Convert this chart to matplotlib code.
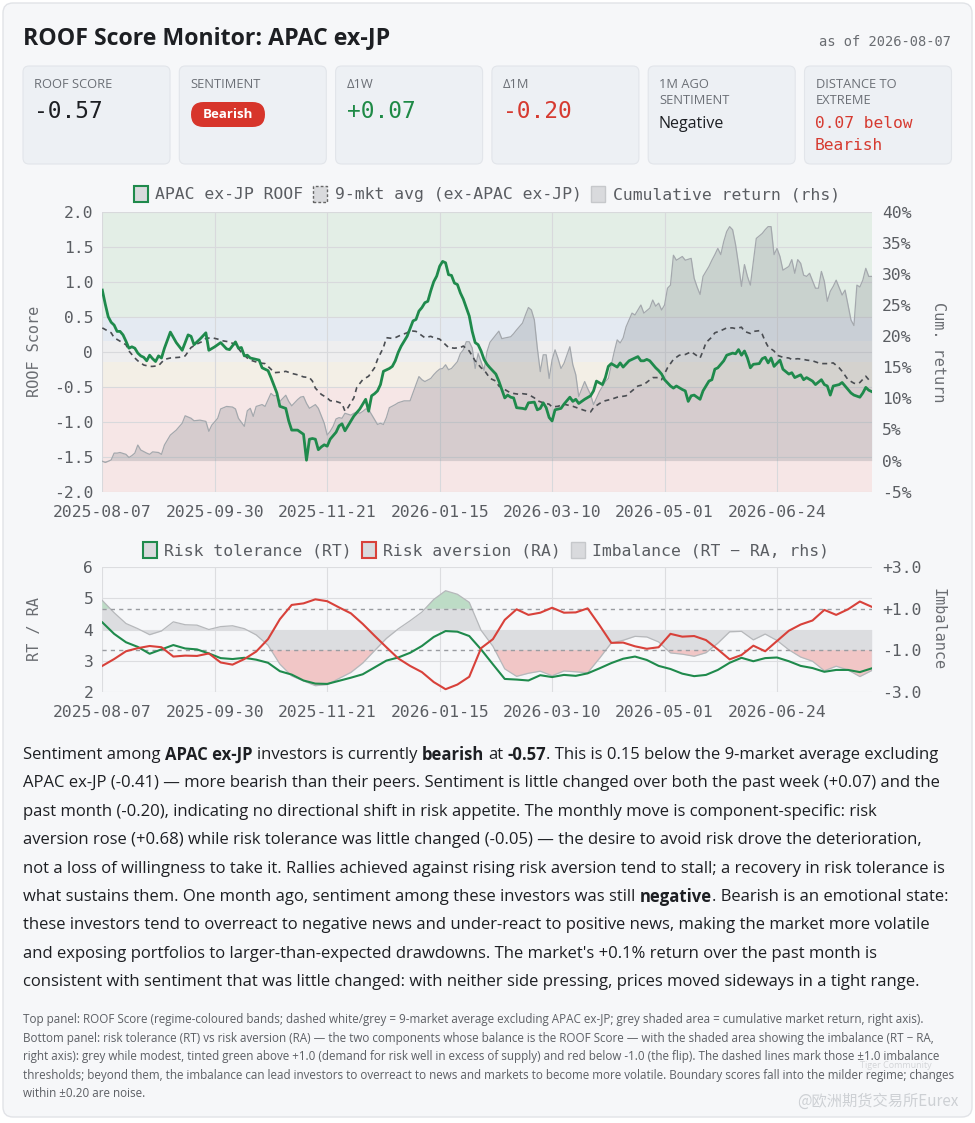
import numpy as np
import matplotlib
matplotlib.use("Agg")
import matplotlib.pyplot as plt
from matplotlib import font_manager
from matplotlib.patches import FancyBboxPatch, Patch

W, H = 975, 1123
MONO = ["DejaVu Sans Mono"]


def pick_sans():
    # first installed family that really has a bold face
    for fam in ["Open Sans", "Roboto", "Lato", "Noto Sans", "Liberation Sans"]:
        try:
            reg = font_manager.findfont(font_manager.FontProperties(family=fam), fallback_to_default=False)
            bold = font_manager.findfont(font_manager.FontProperties(family=fam, weight="bold"),
                                         fallback_to_default=False)
        except Exception:
            continue
        if bold != reg:
            return [fam, "DejaVu Sans"]
    return ["DejaVu Sans"]


SANS = pick_sans()

# ---- data (trading-day index since 2025-08-07) ----
tick_days = [0, 38, 76, 114, 152, 190, 228]
tick_labels = ["2025-08-07", "2025-09-30", "2025-11-21", "2026-01-15",
               "2026-03-10", "2026-05-01", "2026-06-24"]
last_day = 260

roof_pts = [(0,0.88),(1,0.68),(2,0.50),(3,0.42),(4,0.38),(5,0.29),(6,0.29),(7,0.24),(8,0.15),(9,0.05),
    (10,0.07),(11,0.05),(12,-0.02),(13,-0.06),(14,-0.08),(15,-0.13),(16,-0.05),(17,-0.10),(18,-0.14),
    (19,-0.06),(20,-0.09),(21,0.05),(23,0.28),(25,0.13),(27,0.02),(29,0.24),(30,0.22),(31,0.10),(33,0.18),
    (35,0.27),(36,0.02),(38,0.07),(40,0.13),(42,0.04),(43,0.03),(45,0.14),(46,0.05),(47,0.06),(48,-0.06),
    (49,-0.05),(50,-0.09),(52,-0.11),(53,-0.12),(54,-0.23),(56,-0.27),(57,-0.37),(59,-0.59),(60,-0.78),
    (62,-0.81),(63,-0.99),(64,-1.12),(66,-1.12),(68,-1.18),(69,-1.55),(70,-1.25),(71,-1.24),(72,-1.25),
    (73,-1.40),(74,-1.36),(75,-1.33),(76,-1.35),(77,-1.25),(79,-1.15),(80,-1.06),(81,-1.03),(82,-1.13),
    (83,-1.06),(84,-0.99),(85,-0.92),(87,-0.82),(89,-0.68),(90,-0.85),(91,-0.63),(92,-0.60),(93,-0.56),
    (94,-0.47),(95,-0.28),(97,-0.24),(98,-0.21),(99,-0.13),(100,-0.01),(101,0.08),(102,0.15),(103,0.22),
    (105,0.44),(106,0.46),(107,0.58),(108,0.63),(109,0.70),(110,0.72),(111,0.87),(112,1.00),(113,1.08),
    (114,1.22),(115,1.29),(116,1.27),(117,1.10),(118,1.09),(119,0.98),(120,0.96),(121,0.84),(122,0.75),
    (124,0.51),(125,0.29),(126,0.13),(127,0.10),(128,0.01),(129,-0.11),(130,-0.18),(131,-0.23),(133,-0.32),
    (134,-0.42),(135,-0.54),(136,-0.66),(137,-0.62),(138,-0.65),(139,-0.66),(140,-0.80),(142,-0.81),
    (143,-0.82),(144,-0.73),(146,-0.72),(147,-0.83),(148,-0.81),(149,-0.73),(150,-0.80),(151,-0.94),
    (152,-0.99),(153,-0.83),(155,-0.81),(156,-0.75),(158,-0.65),(159,-0.71),(160,-0.68),(161,-0.74),
    (163,-0.68),(165,-0.63),(166,-0.56),(167,-0.42),(169,-0.47),(170,-0.37),(171,-0.21),(172,-0.17),
    (174,-0.22),(175,-0.16),(176,-0.22),(178,-0.13),(179,-0.11),(181,-0.07),(182,-0.13),(183,-0.13),
    (184,-0.11),(185,-0.13),(187,-0.23),(188,-0.27),(189,-0.32),(190,-0.40),(192,-0.49),(193,-0.52),
    (194,-0.49),(196,-0.54),(197,-0.56),(198,-0.71),(199,-0.63),(200,-0.62),(202,-0.68),(203,-0.56),
    (205,-0.42),(206,-0.40),(207,-0.25),(208,-0.23),(210,-0.13),(211,-0.05),(213,-0.02),(214,-0.03),
    (215,0.03),(216,-0.05),(217,0.01),(218,-0.09),(219,-0.23),(220,-0.18),(222,-0.17),(223,-0.10),
    (224,-0.08),(225,-0.16),(226,-0.09),(227,-0.21),(229,-0.12),(230,-0.25),(232,-0.32),(233,-0.30),
    (234,-0.37),(236,-0.33),(237,-0.40),(238,-0.37),(240,-0.42),(241,-0.47),(243,-0.40),(244,-0.47),
    (245,-0.49),(246,-0.62),(247,-0.49),(249,-0.47),(250,-0.44),(251,-0.49),(253,-0.59),(254,-0.62),
    (256,-0.65),(257,-0.59),(258,-0.51),(259,-0.55),(260,-0.57)]

avg_pts = [(0,0.34),(3,0.27),(4,0.20),(6,0.15),(8,0.10),(9,0.01),(11,-0.09),(12,-0.13),(14,-0.19),
    (16,-0.21),(17,-0.21),(19,-0.20),(21,-0.11),(23,-0.09),(26,-0.08),(28,-0.06),(30,0.06),(32,0.11),
    (34,0.15),(35,0.19),(37,0.20),(39,0.18),(40,0.16),(43,0.14),(45,0.10),(47,-0.01),(49,-0.09),(50,-0.12),
    (53,-0.16),(55,-0.17),(57,-0.25),(58,-0.30),(61,-0.29),(62,-0.28),(64,-0.31),(66,-0.33),(68,-0.36),
    (70,-0.37),(71,-0.42),(72,-0.52),(74,-0.61),(76,-0.66),(77,-0.70),(79,-0.71),(81,-0.74),(82,-0.85),
    (83,-0.80),(85,-0.66),(86,-0.51),(88,-0.40),(90,-0.35),(92,-0.23),(93,-0.11),(95,0.06),(96,0.20),
    (98,0.19),(99,0.20),(101,0.24),(103,0.27),(104,0.30),(106,0.29),(107,0.26),(109,0.20),(111,0.22),
    (112,0.20),(114,0.18),(116,0.10),(117,0.06),(119,0.05),(121,0.06),(122,0.08),(124,0.01),(126,-0.13),
    (128,-0.23),(129,-0.26),(131,-0.38),(133,-0.42),(134,-0.49),(136,-0.54),(138,-0.59),(141,-0.61),
    (142,-0.60),(144,-0.61),(146,-0.66),(147,-0.70),(149,-0.73),(151,-0.75),(152,-0.79),(154,-0.78),
    (156,-0.75),(159,-0.78),(161,-0.81),(163,-0.84),(165,-0.86),(166,-0.80),(168,-0.74),(170,-0.70),
    (172,-0.68),(174,-0.65),(177,-0.63),(179,-0.56),(181,-0.49),(183,-0.47),(186,-0.37),(188,-0.37),
    (189,-0.40),(191,-0.23),(193,-0.11),(195,-0.05),(197,-0.04),(199,0.00),(201,-0.06),(202,-0.09),
    (203,0.01),(204,0.13),(206,0.21),(207,0.27),(209,0.30),(211,0.34),(213,0.34),(214,0.33),(216,0.35),
    (217,0.29),(219,0.26),(220,0.29),(222,0.30),(223,0.25),(224,0.15),(225,0.07),(227,0.01),(228,-0.05),
    (230,-0.08),(232,-0.09),(233,-0.11),(235,-0.10),(237,-0.11),(238,-0.12),(240,-0.13),(242,-0.16),
    (243,-0.17),(245,-0.17),(247,-0.16),(249,-0.23),(250,-0.28),(252,-0.40),(254,-0.45),(255,-0.46),
    (256,-0.44),(258,-0.35),(259,-0.40),(260,-0.42)]

# cumulative market return, %
cum_pts = [(0,-0.1),(1,-0.3),(3,0.1),(4,1.2),(5,1.2),(6,1.3),(8,1.0),(9,0.5),(10,0.8),(11,1.2),(12,2.5),
    (13,1.7),(15,1.2),(16,1.0),(17,1.4),(19,1.3),(20,1.0),(21,2.5),(23,4.1),(25,4.9),(27,6.0),(28,7.2),
    (30,6.8),(31,6.4),(33,6.5),(35,6.3),(36,4.7),(37,5.7),(39,6.8),(40,8.3),(42,8.7),(44,8.6),(45,8.3),
    (46,6.8),(48,5.5),(49,8.0),(50,8.4),(51,7.1),(52,8.7),(54,9.0),(55,8.7),(57,10.8),(58,10.4),(59,10.5),
    (60,9.5),(62,10.5),(63,9.5),(64,8.8),(65,9.3),(66,9.8),(67,10.2),(68,10.3),(69,9.2),(70,8.4),(71,8.7),
    (72,9.0),(73,8.4),(75,6.0),(76,4.1),(77,4.7),(78,5.5),(79,6.7),(80,6.9),(81,6.8),(82,7.6),(84,7.3),
    (85,7.6),(86,7.8),(87,7.6),(88,7.9),(89,8.3),(90,8.2),(91,7.4),(93,5.8),(94,6.0),(95,5.8),(96,6.9),
    (97,8.5),(99,9.0),(100,9.3),(102,9.6),(104,9.6),(105,10.9),(106,12.2),(107,13.5),(108,13.0),(109,12.7),
    (111,13.2),(112,13.8),(113,14.3),(114,14.7),(115,14.8),(116,15.4),(117,14.6),(118,14.8),(120,15.9),
    (121,17.2),(122,17.8),(123,19.1),(124,19.1),(125,18.1),(126,14.8),(127,17.2),(128,15.9),(129,14.5),
    (130,17.5),(131,19.0),(133,20.2),(134,20.8),(135,19.6),(136,19.7),(138,19.9),(139,20.4),(140,21.0),
    (142,22.1),(143,23.4),(144,24.6),(145,24.2),(146,22.6),(147,18.1),(148,14.3),(149,17.0),(150,17.0),
    (151,13.2),(152,16.2),(153,17.8),(154,16.4),(155,14.8),(156,15.6),(158,18.3),(159,15.4),(160,13.8),
    (161,10.3),(163,12.7),(164,11.6),(165,10.6),(166,9.0),(168,11.1),(169,11.9),(170,12.7),(171,13.2),
    (173,17.5),(174,19.4),(175,18.9),(176,19.7),(177,21.5),(179,23.7),(180,23.4),(182,25.0),(183,23.7),
    (185,24.5),(186,25.8),(187,24.8),(188,25.3),(189,24.2),(190,25.0),(191,27.7),(192,28.2),(193,33.0),
    (194,32.2),(196,32.8),(197,32.2),(199,32.5),(200,29.3),(201,27.9),(202,26.7),(203,29.6),(205,31.2),
    (206,32.2),(207,33.1),(208,34.1),(209,33.1),(210,35.2),(211,36.8),(212,37.6),(213,37.1),(214,34.7),
    (215,31.5),(216,28.0),(217,31.5),(218,29.6),(219,28.2),(220,32.0),(221,35.7),(223,36.5),(224,37.1),
    (225,37.6),(226,37.6),(227,33.1),(228,34.1),(229,32.8),(230,30.6),(232,31.2),(233,32.3),(234,30.1),
    (235,32.3),(236,31.7),(237,29.8),(238,29.6),(239,30.1),(241,27.7),(242,27.7),(243,30.4),(244,28.8),
    (245,25.6),(246,27.2),(247,28.0),(248,29.0),(250,26.6),(251,27.4),(252,25.0),(253,22.6),(254,21.7),
    (255,28.2),(256,27.9),(257,29.0),(258,30.9),(259,29.6),(260,29.6)]

# components, every 4th trading day
comp_days = np.arange(0, 261, 4)
rt_vals = [4.23,3.86,3.59,3.44,3.22,3.36,3.50,3.39,3.36,3.23,3.08,3.05,3.09,3.03,2.93,2.66,2.55,
           2.36,2.26,2.25,2.35,2.45,2.56,2.78,3.00,3.10,3.25,3.47,3.76,3.95,3.93,3.79,3.36,
           2.88,2.41,2.39,2.36,2.53,2.47,2.54,2.51,2.59,2.75,2.92,3.06,3.13,3.02,2.83,2.73,
           2.58,2.50,2.54,2.70,2.93,3.09,2.98,3.08,3.10,2.98,2.83,2.76,2.64,2.70,2.70,2.63,2.75]
ra_vals = [2.83,3.05,3.30,3.40,3.47,3.43,3.13,3.16,3.15,3.23,2.94,2.87,3.05,3.29,3.69,4.33,4.79,
           4.84,4.97,4.91,4.71,4.52,4.18,3.80,3.43,3.07,2.83,2.63,2.31,2.08,2.23,2.48,3.40,
           3.69,4.31,4.65,4.47,4.54,4.70,4.54,4.55,4.68,4.14,3.57,3.58,3.46,3.38,3.43,3.86,
           3.77,3.79,3.66,3.36,3.04,3.18,3.48,3.30,3.63,3.96,4.16,4.29,4.63,4.47,4.65,4.90,4.73]

# regime bands on the ROOF scale
regimes = [(0.5, 2.0, "#e3eee6"), (0.15, 0.5, "#e4eaf2"), (-0.15, 0.15, "#eeeeef"),
           (-0.5, -0.15, "#f3efe6"), (-2.0, -0.5, "#f6e6e6")]

cards = ["ROOF SCORE", "SENTIMENT", "\u03941W", "\u03941M", "1M AGO\nSENTIMENT", "DISTANCE TO\nEXTREME"]

para = [
    [("Sentiment among ", 0), ("APAC ex-JP", 1), (" investors is currently ", 0), ("bearish", 1),
     (" at ", 0), ("-0.57", 1), (". This is 0.15 below the 9-market average excluding", 0)],
    [("APAC ex-JP (-0.41) \u2014 more bearish than their peers. Sentiment is little changed over both the past week (+0.07) and the", 0)],
    [("past month (-0.20), indicating no directional shift in risk appetite. The monthly move is component-specific: risk", 0)],
    [("aversion rose (+0.68) while risk tolerance was little changed (-0.05) \u2014 the desire to avoid risk drove the deterioration,", 0)],
    [("not a loss of willingness to take it. Rallies achieved against rising risk aversion tend to stall; a recovery in risk tolerance is", 0)],
    [("what sustains them. One month ago, sentiment among these investors was still ", 0), ("negative", 1),
     (". Bearish is an emotional state:", 0)],
    [("these investors tend to overreact to negative news and under-react to positive news, making the market more volatile", 0)],
    [("and exposing portfolios to larger-than-expected drawdowns. The market's +0.1% return over the past month is", 0)],
    [("consistent with sentiment that was little changed: with neither side pressing, prices moved sideways in a tight range.", 0)],
]

notes = [
    "Top panel: ROOF Score (regime-coloured bands; dashed white/grey = 9-market average excluding APAC ex-JP; grey shaded area = cumulative market return, right axis).",
    "Bottom panel: risk tolerance (RT) vs risk aversion (RA) \u2014 the two components whose balance is the ROOF Score \u2014 with the shaded area showing the imbalance (RT \u2212 RA,",
    "right axis): grey while modest, tinted green above +1.0 (demand for risk well in excess of supply) and red below -1.0 (the flip). The dashed lines mark those \u00b11.0 imbalance",
    "thresholds; beyond them, the imbalance can lead investors to overreact to news and markets to become more volatile. Boundary scores fall into the milder regime; changes",
    "within \u00b10.20 are noise.",
]

GREEN = "#1f8a4c"
RED = "#d8413a"
TXT = "#1d1f23"
GREY_TXT = "#5a5d62"


def fx(px):
    return px / W


def fy(py):
    return 1 - py / H


def box(x0, y0, x1, y1, fc, ec, r=0.06, lw=0.8, z=-5):
    p = FancyBboxPatch((x0 / 100, (H - y1) / 100), (x1 - x0) / 100, (y1 - y0) / 100,
                       boxstyle="round,pad=0,rounding_size=%g" % r,
                       transform=fig.dpi_scale_trans, fc=fc, ec=ec, lw=lw, zorder=z)
    fig.patches.append(p)


fig = plt.figure(figsize=(W / 100, H / 100), dpi=100, facecolor="white")
renderer = fig.canvas.get_renderer()
box(3, 3, 972, 1117, "#f6f7f9", "#e1e3e7", r=0.1, lw=1, z=-10)


def text_width(s, size, weight, family):
    t = fig.text(0, 0, s, fontsize=size, fontweight=weight, family=family)
    w = t.get_window_extent(renderer).width
    t.remove()
    return w


def rich_line(x, y, segs, size, color, family, draw=True):
    sp = {w: text_width("a a", size, w, family) - text_width("aa", size, w, family)
          for w in ("normal", "bold")}
    arts = []
    for s, b in segs:
        w = "bold" if b else "normal"
        lead = len(s) - len(s.lstrip(" "))
        trail = len(s) - len(s.rstrip(" "))
        core = s.strip(" ")
        x += lead * sp[w]
        t = fig.text(fx(x), fy(y), core, fontsize=size, fontweight=w, family=family,
                     color=color, ha="left", va="center")
        x += t.get_window_extent(renderer).width + trail * sp[w]
        arts.append(t)
    if not draw:
        for t in arts:
            t.remove()
    return x


# ---- header ----
title = "ROOF Score Monitor: APAC ex-JP"
tsize = 15 * 368 / text_width(title, 15, "bold", SANS)
fig.text(fx(23), fy(38), title, fontsize=tsize, fontweight="bold", family=SANS, color=TXT,
         ha="left", va="center")
fig.text(fx(951), fy(42), "as of 2026-08-07", fontsize=9.9, family=MONO, color="#6a6d72",
         ha="right", va="center")

for i, lab in enumerate(cards):
    x0 = 23 + i * 156.3
    box(x0, 66, x0 + 147, 164, "#edf0f4", "#e2e5ea", r=0.06)
    for j, ln in enumerate(lab.split("\n")):
        fig.text(fx(x0 + 11), fy(84 + j * 17), ln, fontsize=9.3, family=SANS, color="#6b6f76",
                 ha="left", va="center")

fig.text(fx(34), fy(112), "-0.57", fontsize=16.5, family=MONO, color=TXT, va="center")
box(191, 102, 265, 127, "#d7352b", "none", r=0.125, lw=0)
fig.text(fx(228), fy(114.5), "Bearish", fontsize=9.5, fontweight="bold", family=SANS,
         color="white", ha="center", va="center")
fig.text(fx(347), fy(112), "+0.07", fontsize=16.5, family=MONO, color="#1f8a46", va="center")
fig.text(fx(503), fy(112), "-0.20", fontsize=16.5, family=MONO, color="#d63a30", va="center")
fig.text(fx(659), fy(124), "Negative", fontsize=11.5, family=SANS, color=TXT, va="center")
fig.text(fx(815), fy(124), "0.07 below", fontsize=11.7, family=MONO, color="#d63a30", va="center")
fig.text(fx(815), fy(145), "Bearish", fontsize=11.7, family=MONO, color="#d63a30", va="center")

# ---- top panel ----
roof_day, roof_val = zip(*roof_pts)
avg_day, avg_val = zip(*avg_pts)
cum_day, cum_val = zip(*cum_pts)

AX_L, AX_W = fx(102.3), (871.7 - 102.3) / W
ax = fig.add_axes([AX_L, fy(491.7), AX_W, 280 / H])
for lo, hi, c in regimes:
    ax.axhspan(lo, hi, color=c, lw=0, zorder=0)
ax.set_xlim(0, last_day)
ax.set_ylim(-2, 2)
yt = np.arange(-2, 2.01, 0.5)
ax.set_yticks(yt, ["0" if abs(v) < 1e-9 else "%.1f" % v for v in yt])
ax.set_xticks(tick_days, tick_labels)
ax.grid(True, color="#d8d9dc", lw=0.8)
ax.set_axisbelow(True)

axr = ax.twinx()
axr.fill_between(cum_day, 0, cum_val, color="#8d9298", alpha=0.30, lw=0, zorder=1)
axr.plot(cum_day, cum_val, color="#a4a8ad", lw=0.9, zorder=2)
axr.plot(avg_day, avg_val, transform=ax.transData, color="#4a4d52", lw=1.2,
         ls=(0, (3, 2.5)), zorder=3)
axr.plot(roof_day, roof_val, transform=ax.transData, color=GREEN, lw=2.0, zorder=4)
axr.set_ylim(-5, 40)
axr.set_yticks(range(-5, 41, 5), ["%d%%" % v for v in range(-5, 41, 5)])
ax.set_xlim(0, last_day)

# ---- bottom panel ----
rt = np.array(rt_vals)
ra = np.array(ra_vals)
imb = rt - ra

ax2 = fig.add_axes([AX_L, fy(691.7), AX_W, 124.4 / H])
ax2.patch.set_alpha(0)
ax2.set_xlim(0, last_day)
ax2.set_ylim(2, 6)
ax2.set_yticks([2, 3, 4, 5, 6], ["2", "3", "4", "5", "6"])
ax2.set_xticks(tick_days, tick_labels)
ax2.grid(True, color="#dcdde0", lw=0.8)
ax2.set_axisbelow(True)

ax2r = ax2.twinx()
ax2r.fill_between(comp_days, 0, imb, color="#dcdde0", lw=0, zorder=1)
ax2r.fill_between(comp_days, 1, imb, where=imb > 1, interpolate=True, color="#bddcc6", lw=0, zorder=1)
ax2r.fill_between(comp_days, -1, imb, where=imb < -1, interpolate=True, color="#f1c6c6", lw=0, zorder=1)
ax2r.plot(comp_days, imb, color="#b6b8bb", lw=0.9, zorder=2)
for lvl in (1, -1):
    ax2r.axhline(lvl, color="#9a9ca1", lw=1.0, ls=(0, (3, 3)), zorder=2)
ax2r.plot(comp_days, rt, transform=ax2.transData, color=GREEN, lw=1.5, zorder=3)
ax2r.plot(comp_days, ra, transform=ax2.transData, color=RED, lw=1.5, zorder=3)
ax2r.set_ylim(-3, 3)
ax2r.set_yticks([-3, -1, 1, 3], ["-3.0", "-1.0", "+1.0", "+3.0"])
ax2.set_xlim(0, last_day)

for a in (ax, axr, ax2, ax2r):
    for s in a.spines.values():
        s.set_visible(False)
    a.tick_params(length=0, labelsize=11.8, labelcolor=GREY_TXT, labelfontfamily="DejaVu Sans Mono")
ax.tick_params(axis="y", pad=6.5)
ax2.tick_params(axis="y", pad=6.5)
ax.tick_params(axis="x", pad=9.5)
ax2.tick_params(axis="x", pad=9.5)
axr.tick_params(axis="y", pad=7.5)
ax2r.tick_params(axis="y", pad=7.5)

lab_kw = dict(fontsize=11, family=MONO, color="#6a6d72", va="center", ha="center")
ax.set_ylabel("ROOF Score", **lab_kw)
ax.yaxis.set_label_coords((35 - 102.3) / 769.4, 0.5)
axr.set_ylabel("Cum. return", rotation=270, **lab_kw)
axr.yaxis.set_label_coords((938 - 102.3) / 769.4, 0.5)
ax2.set_ylabel("RT / RA", **lab_kw)
ax2.yaxis.set_label_coords((35 - 102.3) / 769.4, 0.5)
ax2r.set_ylabel("Imbalance", rotation=270, **lab_kw)
ax2r.yaxis.set_label_coords((938 - 102.3) / 769.4, 0.5)

leg_kw = dict(loc="center", ncol=3, frameon=False, handlelength=0.85, handleheight=1.1,
              handletextpad=0.45, columnspacing=0.6, labelcolor=GREY_TXT,
              prop={"family": "DejaVu Sans Mono", "size": 11.8})
h_top = [Patch(fc="#d9dadd", ec=GREEN, lw=1.5),
         Patch(fc="#d9dadd", ec="#666", lw=1.0, ls=(0, (2, 1.5))),
         Patch(fc="#d9dadd", ec="#c6c8cb", lw=1.0)]
fig.legend(h_top, ["APAC ex-JP ROOF", "9-mkt avg (ex-APAC ex-JP)", "Cumulative return (rhs)"],
           bbox_to_anchor=(fx(487), fy(194)), **leg_kw)
h_bot = [Patch(fc="#d9dadd", ec=GREEN, lw=1.5),
         Patch(fc="#d9dadd", ec=RED, lw=1.5),
         Patch(fc="#d9dadd", ec="#c6c8cb", lw=1.0)]
fig.legend(h_bot, ["Risk tolerance (RT)", "Risk aversion (RA)", "Imbalance (RT \u2212 RA, rhs)"],
           bbox_to_anchor=(fx(486), fy(550)), **leg_kw)

# ---- commentary ----
base = 12
w1 = rich_line(23, 755, para[0], base, TXT, SANS, draw=False) - 23
psize = base * 927 / w1 * 0.985
for k, segs in enumerate(para):
    rich_line(23, 755 + k * 28.4, segs, psize, TXT, SANS)

nsize = 8 * 903 / text_width(notes[0], 8, "normal", SANS)
for k, ln in enumerate(notes):
    fig.text(fx(23), fy(1020 + k * 18.4), ln, fontsize=nsize, family=SANS, color="#5c5f64",
             ha="left", va="center")

# watermark
fig.text(fx(860), fy(1066), "Tiger Community", fontsize=6.5, family=SANS, color="#d3d5d8",
         ha="left", va="center")
fig.text(fx(958), fy(1101), "@\u6b27\u6d32\u671f\u8d27\u4ea4\u6613\u6240Eurex", fontsize=11,
         family=["Noto Sans CJK SC", "DejaVu Sans"], color="#cdd0d4", ha="right", va="center")

fig.savefig("out.png", dpi=100, facecolor=fig.get_facecolor())
